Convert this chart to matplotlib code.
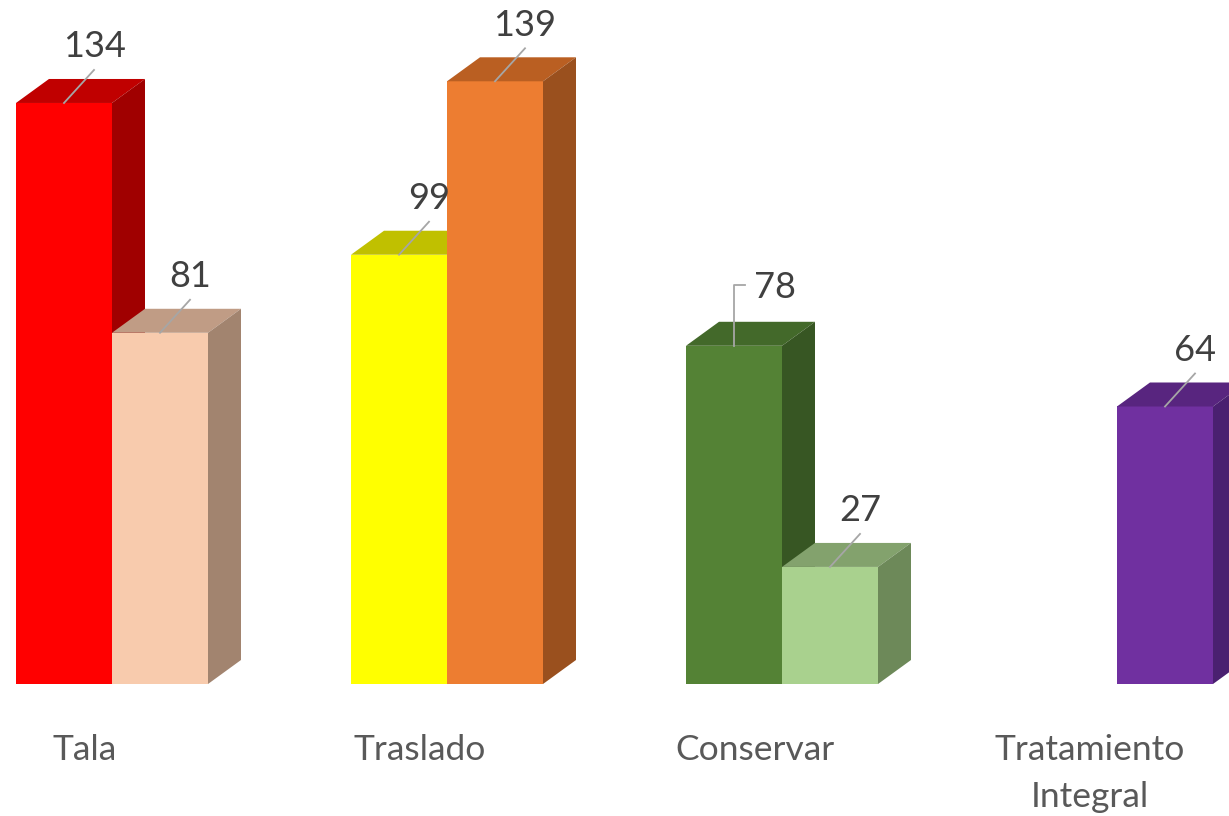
import matplotlib
matplotlib.use("Agg")
import matplotlib.pyplot as plt
from matplotlib.patches import Polygon

# ---- data ----
categories = ["Tala", "Traslado", "Conservar", "Tratamiento\nIntegral"]
series_a = [134, 99, 78, None]
series_b = [81, 139, 27, 64]

colors_a = [("#FF0000", "#C00000", "#A00000"),
            ("#FFFF00", "#C0C000", "#A0A000"),
            ("#548235", "#43692A", "#375623"),
            None]
colors_b = [("#F8CBAD", "#C09C85", "#A2846F"),
            ("#ED7D31", "#BA5F22", "#9A501E"),
            ("#A9D18E", "#83A26D", "#6D8959"),
            ("#7030A0", "#58257F", "#4A2070")]

# ---- layout ----
W, H = 1229, 816
fig = plt.figure(figsize=(W / 100, H / 100), dpi=100)
ax = fig.add_axes([0, 0, 1, 1])
px_x = 1 / 335.0          # data units per pixel (x)
px_y = 1 / 4.336          # data units per pixel (y)
ax.set_xlim(-112 * px_x, (W - 112) * px_x)
ax.set_ylim(-(H - 684) * px_y, 684 * px_y)
ax.axis("off")

bw = 96 * px_x
dx = 33 * px_x
dy = 24 * px_y
lead_dx = 30 * px_x
lead_dy = 33 * px_y
lab_dy = 23 * px_y
FONT = ["Lato", "DejaVu Sans"]
lead_col = "#A6A6A6"
val_col = "#404040"
VAL_FS = 26
CAT_FS = 25.5


def draw_bar(x0, h, cols):
    front, top, side = cols
    x1 = x0 + bw
    ax.add_patch(Polygon([(x0, 0), (x1, 0), (x1, h), (x0, h)], closed=True,
                         facecolor=front, edgecolor="none", zorder=2))
    ax.add_patch(Polygon([(x0, h), (x0 + dx, h + dy), (x1 + dx, h + dy), (x1, h)],
                         closed=True, facecolor=top, edgecolor="none", zorder=2))
    ax.add_patch(Polygon([(x1, 0), (x1 + dx, dy), (x1 + dx, h + dy), (x1, h)],
                         closed=True, facecolor=side, edgecolor="none", zorder=2))


def value_label(xc, h, v, elbow=False):
    if elbow:
        ax.plot([xc, xc, xc + 11 * px_x], [h, h + 61 * px_y, h + 61 * px_y],
                color=lead_col, lw=1.3, zorder=3)
        ax.text(xc + 20 * px_x, h + 58 * px_y, str(v), ha="left", va="center",
                fontsize=VAL_FS, color=val_col, family=FONT, zorder=4)
    else:
        ax.plot([xc, xc + lead_dx], [h, h + lead_dy], color=lead_col, lw=1.3, zorder=3)
        ax.text(xc + lead_dx, h + lead_dy + lab_dy, str(v), ha="center", va="center",
                fontsize=VAL_FS, color=val_col, family=FONT, zorder=4)


for i in range(len(categories)):
    if series_a[i] is not None:
        draw_bar(i - bw, series_a[i], colors_a[i])
    if series_b[i] is not None:
        draw_bar(i, series_b[i], colors_b[i])

for i in range(len(categories)):
    if series_a[i] is not None:
        value_label(i - bw / 2, series_a[i], series_a[i], elbow=(i == 2))
    if series_b[i] is not None:
        value_label(i + bw / 2, series_b[i], series_b[i])

for i, c in enumerate(categories):
    nlines = c.count("\n") + 1
    yc = -(750 - 684) * px_y - (nlines - 1) * 23.5 * px_y
    ax.text(i - 27 * px_x, yc, c, ha="center", va="center", fontsize=CAT_FS,
            color="#595959", family=FONT, linespacing=1.55)

fig.savefig("out.png", dpi=100)
